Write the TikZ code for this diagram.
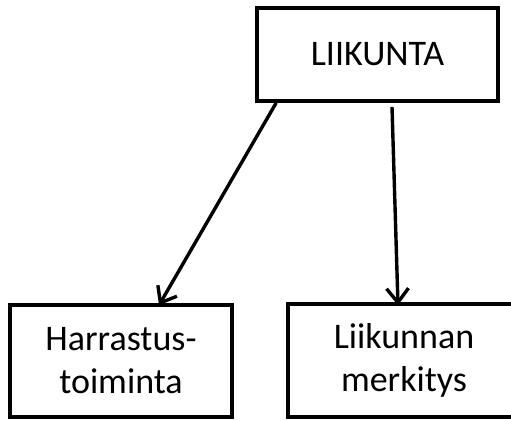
\documentclass[tikz,border=0pt]{standalone}
\usepackage{fontspec}
\setmainfont{Carlito}
\usepackage{tikz}
\usetikzlibrary{arrows.meta,positioning}

\begin{document}
\begin{tikzpicture}[x=1pt, y=-1pt,
    box/.style={draw=black, line width=3.6pt, fill=white, align=center,
                font=\fontsize{36}{43}\selectfont, inner sep=0pt},
    arr/.style={-{Straight Barb[length=14pt, width=22pt, line width=3.4pt]},
                line width=3.4pt}
  ]
    \useasboundingbox (0,0) rectangle (511,421);
    \node[box, minimum width=241pt, minimum height=93pt]  (liik) at (377.5,54.5) {LIIKUNTA};
    \node[box, minimum width=222pt, minimum height=112pt] (harr) at (121,361)   {Harrastus-\\toiminta};
    \node[box, minimum width=232pt, minimum height=113pt] (merk) at (404,360.5) {Liikunnan\\merkitys};

    \draw[arr] ([xshift=21pt]liik.south west) -- ([xshift=38pt,yshift=-2pt]harr.north);
    \draw[arr] ([xshift=14.5pt,yshift=-4pt]liik.south) -- ([xshift=-6pt,yshift=-3pt]merk.north);
\end{tikzpicture}
\end{document}
